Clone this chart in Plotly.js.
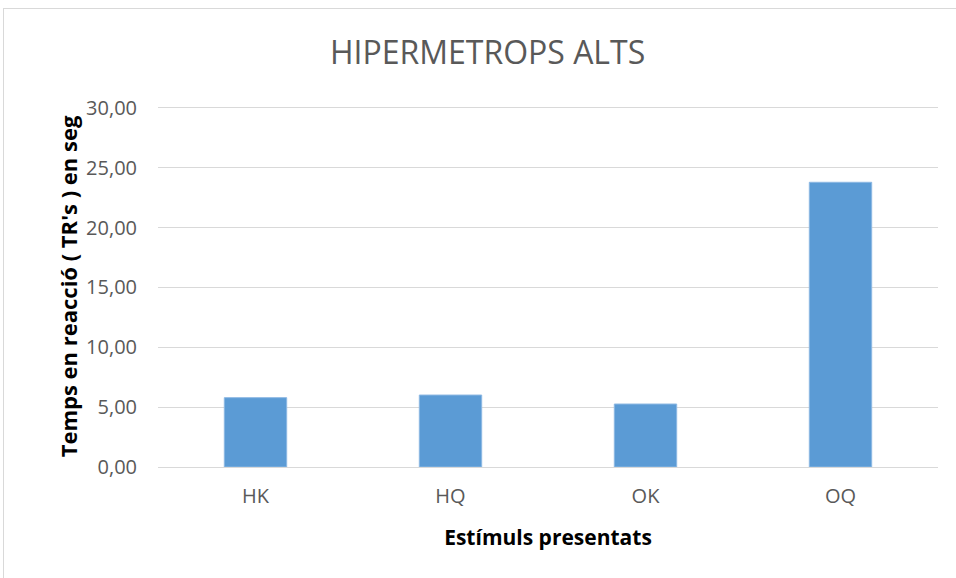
<!DOCTYPE html>
<html>
<head>
<meta charset="utf-8">
<script src="https://cdn.plot.ly/plotly-3.0.1.min.js"></script>
<style>
html,body{margin:0;padding:0;background:#fff;overflow:hidden;}
#chart{position:absolute;left:0;top:0;width:956px;height:578px;}
#frame{position:absolute;left:3px;top:8px;width:980px;height:600px;border-left:1px solid #d9d9d9;border-top:1px solid #d9d9d9;pointer-events:none;}
</style>
</head>
<body>
<div id="chart"></div>
<div id="frame"></div>
<script>
const categories = ["HK", "HQ", "OK", "OQ"];
const values = [5.79, 6.01, 5.26, 23.78];
const chartTitle = "HIPERMETROPS ALTS";
const xTitle = "Estímuls presentats";
const yTitle = "Temps en reacció ( TR's ) en seg";

const font = "'Open Sans', 'Noto Sans', sans-serif";

Plotly.newPlot("chart", [{
  type: "bar",
  x: categories,
  y: values,
  marker: {color: "#5b9bd5", line: {color: "#8db8e3", width: 1}},
  hoverinfo: "x+y"
}], {
  width: 956, height: 578,
  margin: {l: 158, r: 18, t: 106, b: 111},
  paper_bgcolor: "#ffffff",
  plot_bgcolor: "#ffffff",
  separators: ", ",
  bargap: 0.68,
  showlegend: false,
  title: {text: chartTitle, x: 0.51, xanchor: "center", y: 0.908, yanchor: "middle",
          font: {family: font, size: 32, color: "#595959"}},
  xaxis: {
    type: "category",
    showgrid: false,
    showline: true, linecolor: "#d9d9d9", linewidth: 1,
    ticks: "", ticklabelstandoff: 11,
    tickfont: {family: font, size: 20, color: "#595959"},
    title: {text: xTitle, standoff: 22, font: {family: font, size: 21, color: "#000000", weight: "bold"}}
  },
  yaxis: {
    range: [0, 30.15], dtick: 5, tick0: 0, tickformat: ".2f",
    showgrid: true, gridcolor: "#d9d9d9", gridwidth: 1,
    zeroline: false, showline: false,
    ticks: "", ticklabelstandoff: 20,
    tickfont: {family: font, size: 20, color: "#595959"},
    title: {text: yTitle, standoff: 2, font: {family: font, size: 22, color: "#000000", weight: "bold"}}
  }
}, {displayModeBar: false, staticPlot: true});
</script>
</body>
</html>
